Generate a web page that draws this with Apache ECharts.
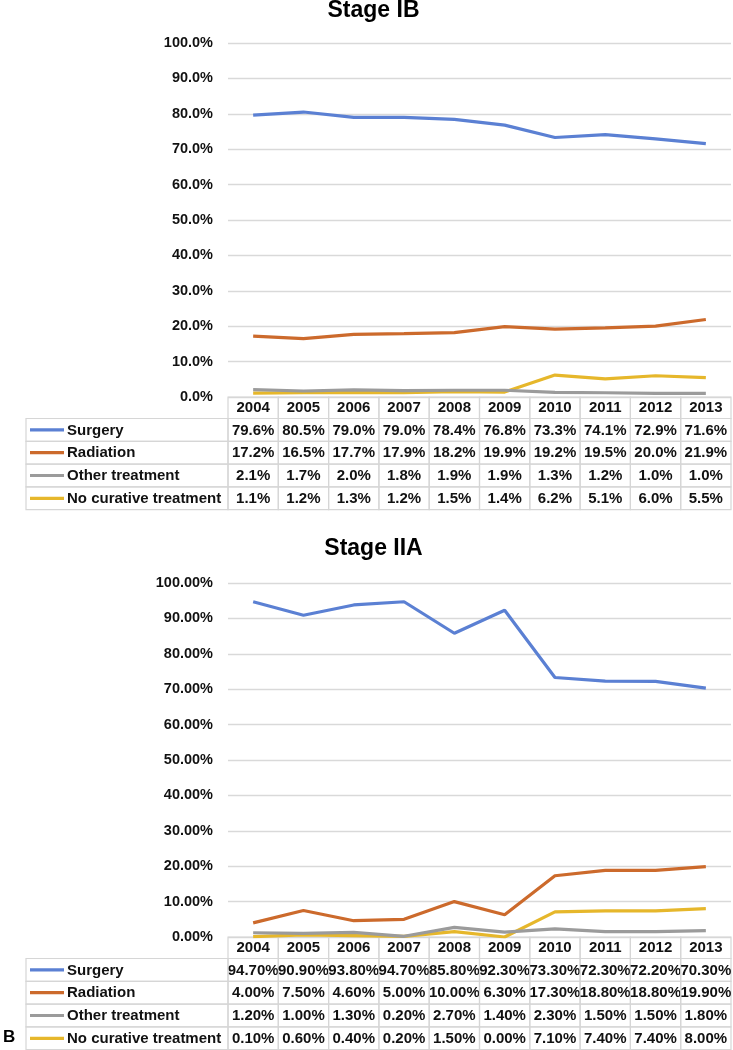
<!DOCTYPE html>
<html>
<head>
<meta charset="utf-8">
<script src="https://cdn.jsdelivr.net/npm/echarts@6/dist/echarts.min.js"></script>
<style>
html,body{margin:0;padding:0;background:#fff;}
#c{width:733px;height:1050px;}
</style>
</head>
<body>
<div id="c"></div>
<script>
// ---- data ----
var years = ['2004','2005','2006','2007','2008','2009','2010','2011','2012','2013'];
var seriesNames = ['Surgery','Radiation','Other treatment','No curative treatment'];
var yTicks = [0,10,20,30,40,50,60,70,80,90,100];

var ibSurgery   = [79.6,80.5,79.0,79.0,78.4,76.8,73.3,74.1,72.9,71.6];
var ibRadiation = [17.2,16.5,17.7,17.9,18.2,19.9,19.2,19.5,20.0,21.9];
var ibOther     = [2.1,1.7,2.0,1.8,1.9,1.9,1.3,1.2,1.0,1.0];
var ibNoCure    = [1.1,1.2,1.3,1.2,1.5,1.4,6.2,5.1,6.0,5.5];

var iiaSurgery   = [94.7,90.9,93.8,94.7,85.8,92.3,73.3,72.3,72.2,70.3];
var iiaRadiation = [4.0,7.5,4.6,5.0,10.0,6.3,17.3,18.8,18.8,19.9];
var iiaOther     = [1.2,1.0,1.3,0.2,2.7,1.4,2.3,1.5,1.5,1.8];
var iiaNoCure    = [0.1,0.6,0.4,0.2,1.5,0.0,7.1,7.4,7.4,8.0];

var colors = ['#5b80d3','#cc6a2c','#9b9b9b','#e6b72b'];
var FONT = '"Liberation Sans", Arial, sans-serif';

var panels = [
  {title:'Stage IB', decimals:1, data:[ibSurgery, ibRadiation, ibOther, ibNoCure], top:43, titleY:11},
  {title:'Stage IIA', decimals:2, data:[iiaSurgery, iiaRadiation, iiaOther, iiaNoCure], top:583, titleY:549}
];

var PLOT_H = 354;
var HEADER_H = 21.5;
var ROW_H = 22.8;
var LEG_W = 202;

function makeTableRender(panel){
  return function(params, api){
    var r = params.dataIndex;
    var w = api.size([1,0])[0];
    var y0 = api.coord([0,0])[1];
    var children = [];
    var ry, rh;
    if (r === 0) { ry = y0; rh = HEADER_H; }
    else { ry = y0 + HEADER_H + (r-1)*ROW_H; rh = ROW_H; }
    var x0 = api.coord([0,0])[0] - w/2;
    for (var c = 0; c < years.length; c++) {
      var cx = api.coord([c,0])[0];
      children.push({type:'rect', shape:{x:cx-w/2, y:ry, width:w, height:rh},
        style:{fill:null, stroke:'#d6d6d6', lineWidth:1.2}});
      var txt = r === 0 ? years[c] : panel.data[r-1][c].toFixed(panel.decimals) + '%';
      children.push({type:'text', style:{text:txt, x:cx, y:ry+rh/2+0.5, align:'center', verticalAlign:'middle',
        font:'bold 15px ' + FONT, fill:'#111'}});
    }
    if (r > 0) {
      var lx = x0 - LEG_W;
      children.push({type:'rect', shape:{x:lx, y:ry, width:LEG_W, height:rh},
        style:{fill:null, stroke:'#d6d6d6', lineWidth:1.2}});
      children.push({type:'line', shape:{x1:lx+4, y1:ry+rh/2, x2:lx+38, y2:ry+rh/2},
        style:{stroke:colors[r-1], lineWidth:3.2}});
      children.push({type:'text', style:{text:seriesNames[r-1], x:lx+41, y:ry+rh/2+0.5, align:'left', verticalAlign:'middle',
        font:'bold 15px ' + FONT, fill:'#111'}});
    }
    return {type:'group', children:children};
  };
}

var option = {
  animation:false,
  backgroundColor:'#fff',
  grid:[], xAxis:[], yAxis:[], series:[], graphic:[]
};

panels.forEach(function(p, i){
  option.grid.push({left:228, right:2, top:p.top, height:PLOT_H, containLabel:false});
  option.xAxis.push({type:'category', gridIndex:i, data:years, boundaryGap:true,
    axisLine:{show:false}, axisTick:{show:false}, axisLabel:{show:false}, splitLine:{show:false}});
  option.yAxis.push({type:'value', gridIndex:i, min:yTicks[0], max:yTicks[yTicks.length-1], interval:yTicks[1]-yTicks[0],
    axisLine:{show:false}, axisTick:{show:false},
    axisLabel:{margin:15, fontFamily:FONT, fontWeight:'bold', fontSize:14.5, color:'#111',
      formatter:function(v){ return v.toFixed(p.decimals) + '%'; }},
    splitLine:{lineStyle:{color:'#d9d9d9', width:1.3}}});
  // draw order: surgery, radiation, no curative, other
  [0,1,3,2].forEach(function(k){
    option.series.push({type:'line', name:seriesNames[k], xAxisIndex:i, yAxisIndex:i,
      data:p.data[k], symbol:'none', smooth:false,
      lineStyle:{color:colors[k], width:3.2}, itemStyle:{color:colors[k]}, z:3});
  });
  option.series.push({type:'custom', xAxisIndex:i, yAxisIndex:i, clip:false, silent:true, z:2,
    data:[[0,0],[0,0],[0,0],[0,0],[0,0]], encode:{x:0, y:1},
    renderItem:makeTableRender(p)});
  option.graphic.push({type:'text', x:373.5, y:p.titleY,
    style:{text:p.title, align:'center', verticalAlign:'middle', font:'bold 23px ' + FONT, fill:'#000'}});
});

option.graphic.push({type:'text', x:3, y:1037.5,
  style:{text:'B', align:'left', verticalAlign:'middle', font:'bold 17px ' + FONT, fill:'#000'}});

var chart = echarts.init(document.getElementById('c'), null, {renderer:'canvas'});
chart.setOption(option);
</script>
</body>
</html>
